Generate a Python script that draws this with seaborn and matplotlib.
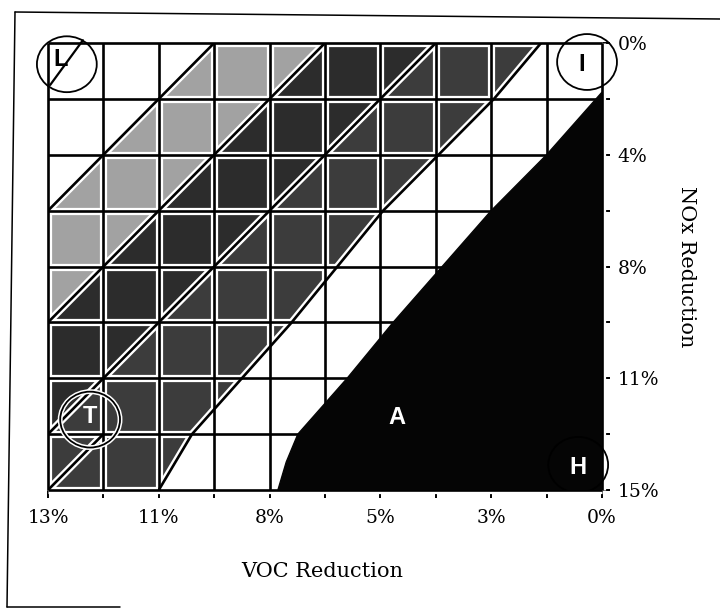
import numpy as np
import matplotlib
matplotlib.use("Agg")
import matplotlib.pyplot as plt
import seaborn as sns
from matplotlib.patches import Ellipse, Polygon, Rectangle
from matplotlib.lines import Line2D

# ---- axis labelling (every other grid line carries a label) ----
voc_labels = ["13%", "11%", "8%", "5%", "3%", "0%"]
nox_labels = ["0%", "4%", "8%", "11%", "15%"]
n_voc_steps = 10
n_nox_steps = 8

# ---- diagonal isolines: VOC step + NOx step = constant ----
band_lines = [3, 5, 7]
band_shades = ["#a2a2a2", "#2c2c2c", "#3c3c3c"]   # 3-5, 5-7, 7-edge
# lower edge of the shaded bands (VOC step at given NOx steps)
edge_nox = [0, 1, 2, 3, 5, 6, 7, 8]
edge_voc = [8.9, 8.05, 7.05, 6.05, 4.4, 3.5, 2.6, 2.0]
# short isoline in the lower-left cell
short_line = 8
short_rows = [7, 8]

# ---- attainment region (solid black) ----
attain_voc = [10, 9, 8, 6.23, 5.4, 4.51, 4.3, 4.15, 10]
attain_nox = [0.88, 2, 3, 5, 6, 7, 7.5, 8, 8]

# ---- point markers ----
marker_text = ["L", "I", "T", "A", "H"]
marker_voc = [0.23, 9.64, 0.76, 6.30, 9.57]
marker_nox = [0.30, 0.38, 6.69, 6.71, 7.60]
marker_color = ["black", "black", "white", "white", "white"]
circle_voc = [0.34, 9.73, 0.76, 9.57]
circle_nox = [0.38, 0.34, 6.74, 7.55]
arrow_voc = [0.04, 0.63]
arrow_nox = [0.75, -0.05]

sns.set_theme(style="white")
plt.rcParams["font.family"] = ["DejaVu Serif"]

fig = plt.figure(figsize=(7.2, 6.09), dpi=100)
ax = fig.add_axes([48 / 720, 1 - 490 / 609, 554 / 720, 447 / 609])
ax.set_xlim(0, n_voc_steps)
ax.set_ylim(n_nox_steps, 0)

rows = np.linspace(0, n_nox_steps, 401)
edge = np.interp(rows, edge_nox, edge_voc)
bounds = [np.array(band_lines[0] - rows)]
bounds += [band_lines[1] - rows, band_lines[2] - rows, edge]
for i, shade in enumerate(band_shades):
    lo = bounds[i]
    hi = np.maximum(bounds[i + 1], lo)
    ax.fill_betweenx(rows, lo, hi, color=shade, lw=0, zorder=1)

halo_kw = dict(color="white", lw=5.2, solid_capstyle="butt", zorder=2)
line_kw = dict(color="black", lw=1.9, solid_capstyle="butt", zorder=3)

diag_sets = []
for c in band_lines:
    diag_sets.append((c - rows, rows))
diag_sets.append((edge, rows))
sr = np.array(short_rows, dtype=float)
diag_sets.append((short_line - sr, sr))

for kw in (halo_kw, line_kw):
    for k in range(n_voc_steps + 1):
        ax.plot([k, k], [0, n_nox_steps], clip_on=False, **kw)
    for r in range(n_nox_steps + 1):
        ax.plot([0, n_voc_steps], [r, r], clip_on=False, **kw)
    for xs, ys in diag_sets:
        ax.plot(xs, ys, **kw)

ax.add_patch(Polygon(np.column_stack([attain_voc, attain_nox]), closed=True,
                     facecolor="#050505", edgecolor="#050505", lw=1,
                     zorder=4))

# circles around marked points (the lower one is cut at the bottom edge)
circle_w, circle_h = 1.08, 1.0
bottom_clip = Rectangle((-1, -1), n_voc_steps + 2, n_nox_steps + 1,
                        transform=ax.transData, visible=False)
ax.add_patch(bottom_clip)
for j, (cx, cy) in enumerate(zip(circle_voc, circle_nox)):
    if j == 2:
        ax.add_patch(Ellipse((cx, cy), circle_w, circle_h, fill=False,
                             edgecolor="white", lw=3.5, zorder=5))
    ring = Ellipse((cx, cy), circle_w, circle_h, fill=False,
                   edgecolor="black", lw=1.3, zorder=6, clip_on=False)
    ax.add_patch(ring)
    if j == 3:
        ring.set_clip_on(True)
        ring.set_clip_path(bottom_clip)
ax.plot(arrow_voc, arrow_nox, color="black", lw=1.6, zorder=6,
        clip_on=False)

for t, mx, my, col in zip(marker_text, marker_voc, marker_nox, marker_color):
    ax.text(mx, my, t, ha="center", va="center", fontsize=17,
            fontweight="bold", color=col, family=["Liberation Sans"],
            zorder=7)

# ticks and labels
ax.set_xticks(range(n_voc_steps + 1))
ax.set_xticklabels([voc_labels[i // 2] if i % 2 == 0 else ""
                    for i in range(n_voc_steps + 1)])
ax.set_yticks(range(n_nox_steps + 1))
ax.set_yticklabels([nox_labels[i // 2] if i % 2 == 0 else ""
                    for i in range(n_nox_steps + 1)])
ax.tick_params(axis="x", bottom=True, top=False, direction="out",
               length=5.5, width=1.4, color="black", pad=8,
               labelsize=13.5, labelcolor="black")
ax.tick_params(axis="y", left=False, right=True, labelleft=False,
               labelright=True, direction="out", length=6, width=1.4,
               color="black", pad=5, labelsize=13.5, labelcolor="black")
for s in ax.spines.values():
    s.set_visible(False)
ax.grid(False)

ax.set_xlabel("VOC Reduction", fontsize=15, color="black")
ax.xaxis.set_label_coords(0.4946, -0.162)
ax.text(1.153, 0.5, "NOx Reduction", transform=ax.transAxes, rotation=270,
        ha="center", va="center", fontsize=15, color="black")

# page frame
frame_kw = dict(color="black", lw=1.1, transform=fig.transFigure)
fig.add_artist(Line2D([15 / 720, 1.0], [1 - 12 / 609, 1 - 19 / 609],
                      **frame_kw))
fig.add_artist(Line2D([15 / 720, 7 / 720], [1 - 12 / 609, 1 - 607 / 609],
                      **frame_kw))
fig.add_artist(Line2D([7 / 720, 120 / 720], [1 - 607 / 609, 1 - 607 / 609],
                      **frame_kw))

fig.savefig("out.png", dpi=100, facecolor="white")
